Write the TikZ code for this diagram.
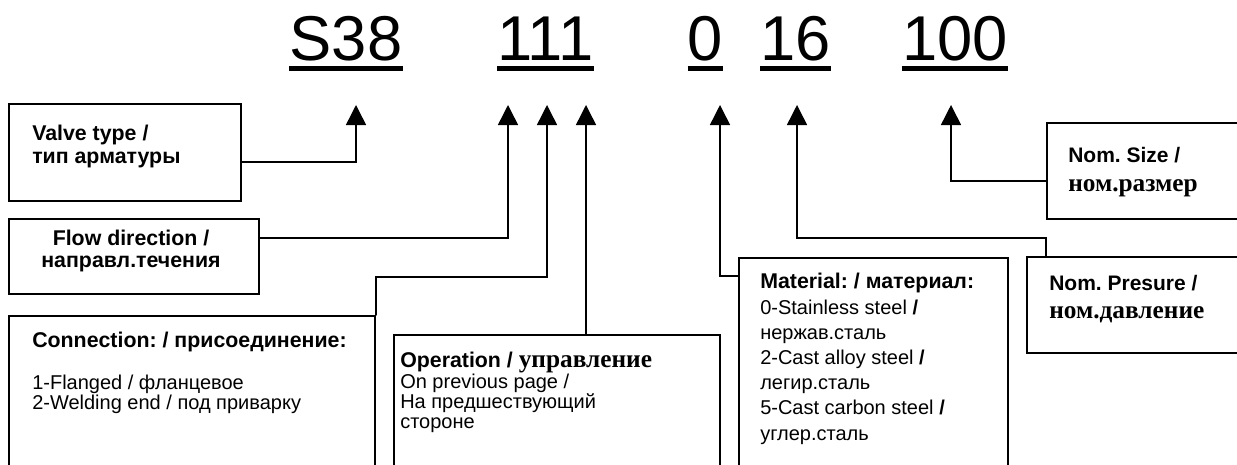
\documentclass[tikz,border=0pt]{standalone}
\usepackage{fontspec}
\setmainfont{Liberation Sans}
\newfontfamily\tms{Liberation Serif}
\usetikzlibrary{arrows.meta,calc,fit}
\tikzset{
	box/.style={draw,line width=1.5pt,inner sep=0pt},
	wire/.style={line width=1.1pt,->},
	uline/.style={line width=3.75pt,line cap=butt},
	num/.style={inner sep=0pt,anchor=base,font=\fontsize{47.5}{57}\selectfont},
	hd/.style={inner sep=0pt,anchor=base west,align=left,font=\fontsize{16}{17.25}\selectfont\bfseries},
	txt/.style={inner sep=0pt,anchor=base west,align=left,font=\fontsize{15}{15}\selectfont}
}
\frenchspacing
\begin{document}
\begin{tikzpicture}[line cap=round,line join=miter,>={Triangle[length=15pt,width=15pt]},x=0.75pt,y=-0.75pt]
		\useasboundingbox (0,0) rectangle (1237,464);
		\clip (0,0) rectangle (1237,464);
		\node[num] (s38) at (346,60) {S38};
		\node[num] (n111) at (545.5,60) {111};
		\node[num] (n0) at (705.5,60) {0};
		\node[num] (n16) at (795.5,60) {16};
		\node[num] (n100) at (955,60) {100};
		\draw [uline] ($(s38.base west)+(0,8.5)$) -- ($(s38.base east)+(0,8.5)$);
		\draw [uline] ($(n111.base west)+(0,8.5)$) -- ($(n111.base east)+(0,8.5)$);
		\draw [uline] ($(n0.base west)+(0,8.5)$) -- ($(n0.base east)+(0,8.5)$);
		\draw [uline] ($(n16.base west)+(0,8.5)$) -- ($(n16.base east)+(0,8.5)$);
		\draw [uline] ($(n100.base west)+(0,8.5)$) -- ($(n100.base east)+(0,8.5)$);
		\coordinate (tA) at (356,105);
		\coordinate (tB) at (508,105);
		\coordinate (tC) at (547,105);
		\coordinate (tD) at (586,105);
		\coordinate (tE) at (720,105);
		\coordinate (tF) at (797,105);
		\coordinate (tG) at (951,105);
		\node[box,fit={(9,104) (241,201)}] (vt) {};
		\node[box,fit={(9,219) (259,294)}] (fd) {};
		\node[box,fit={(9,316) (375,475)}] (cn) {};
		\node[box,fit={(394,335) (720,475)}] (op) {};
		\node[box,fit={(739,258) (1008,475)}] (mt) {};
		\node[box,fit={(1027,257) (1245,353)}] (np) {};
		\node[box,fit={(1047,123) (1245,219)}] (ns) {};
		\draw [wire] ($(vt.east)+(0,9.5)$) -| (tA);
		\draw [wire] ($(fd.east)+(0,-18.5)$) -| (tB);
		\draw [wire] (cn.north east) -- ++(0,-38) -| (tC);
		\draw [wire] (op.north -| tD) -- (tD);
		\draw [wire] ($(mt.north west)+(0,19)$) -| (tE);
		\draw [wire] ($(np.north west)+(20,0)$) -- ++(0,-18) -| (tF);
		\draw [wire] ($(ns.west)+(0,10)$) -| (tG);
		\node[hd] (vtt) at (32,163) {Valve type /\\тип арматуры};
		\node[hd,anchor=center,align=center,font=\fontsize{16}{16.5}\selectfont\bfseries] (fdt) at (131,251) {Flow direction /\\направл.течения};
		\node[hd] (cnh) at (32,347) {Connection: / присоединение:};
		\node[txt] (cnt) at (32,409) {1-Flanged / фланцевое\\2-Welding end / под приварку};
		\node[txt,font=\fontsize{15}{14.8}\selectfont] (opt) at (400,428) {{\fontsize{16}{16}\selectfont\bfseries Operation / }{\tms\bfseries\fontsize{19}{19}\selectfont управление}\\On previous page /\\На предшествующий\\стороне};
		\node[txt,font=\fontsize{15}{18.9}\selectfont] (mtt) at (760,440) {{\fontsize{16}{16}\selectfont\bfseries Material: / материал:}\\0-Stainless steel {\bfseries /}\\нержав.сталь\\2-Cast alloy steel {\bfseries /}\\легир.сталь\\5-Cast carbon steel {\bfseries /}\\углер.сталь};
		\node[hd,font=\fontsize{15.75}{21}\selectfont\bfseries] (npt) at (1049,318) {Nom. Presure /\\{\tms\fontsize{19}{21}\selectfont ном.давление}};
		\node[hd,font=\fontsize{15.75}{21.75}\selectfont\bfseries] (nst) at (1068,191) {Nom. Size /\\{\tms\fontsize{19}{21.75}\selectfont ном.размер}};
\end{tikzpicture}
\end{document}
